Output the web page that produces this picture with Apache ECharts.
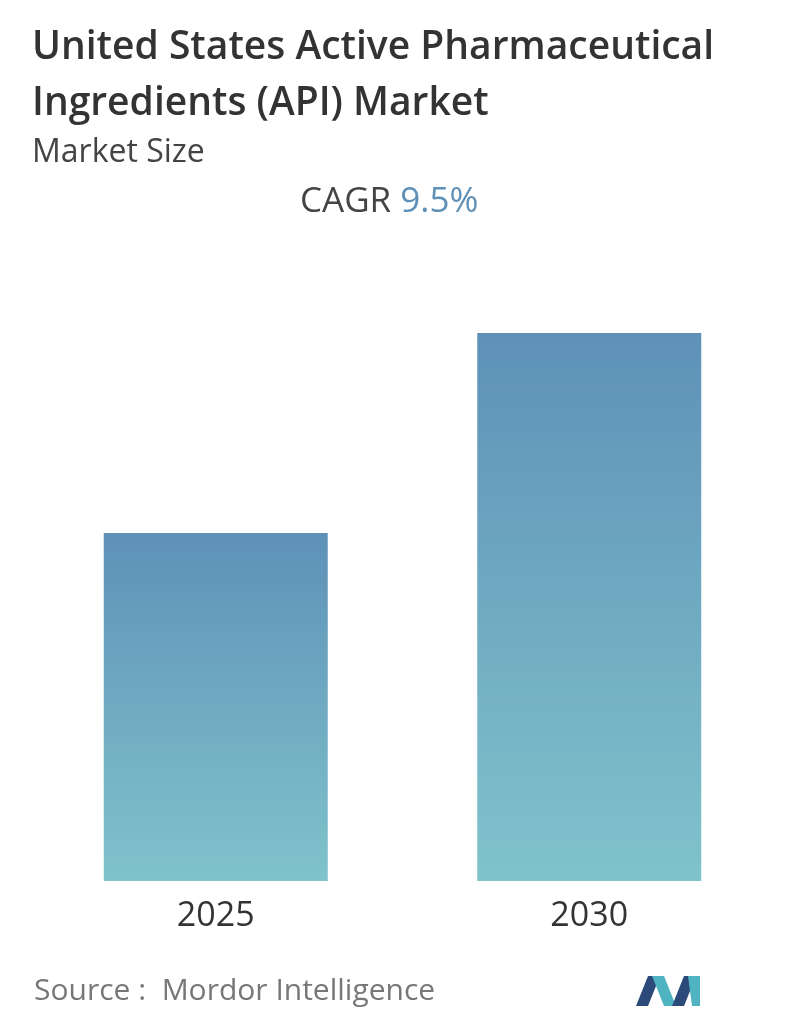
<!DOCTYPE html>
<html><head><meta charset="utf-8">
<script src="https://cdn.jsdelivr.net/npm/echarts@6/dist/echarts.min.js"></script>
<style>html,body{margin:0;padding:0;background:#fff}#c{width:796px;height:1034px}</style>
</head><body><div id="c"></div>
<script>
const categories = ['2025', '2030'];
const values = [348, 548];
const chart = echarts.init(document.getElementById('c'));
chart.setOption({
  animation: false,
  grid: { left: 29, right: 20, top: 333, bottom: 153 },
  xAxis: { type: 'category', data: categories, axisLine: { show: false }, axisTick: { show: false },
    axisLabel: { fontSize: 34, color: '#333', margin: 18, fontFamily: 'Open Sans' } },
  yAxis: { type: 'value', min: 0, max: 548, show: false, splitLine: { show: false } },
  series: [{ type: 'bar', data: values, barWidth: 224,
    itemStyle: { color: new echarts.graphic.LinearGradient(0, 0, 0, 1, [
      { offset: 0, color: '#5f91b8' }, { offset: 1, color: '#7fc3cb' }]) } }],
  graphic: [
    { type: 'text', left: 32, top: 20, style: { text: 'United States Active Pharmaceutical\nIngredients (API) Market', font: '600 39px "Open Sans"', fill: '#333', lineHeight: 56 } },
    { type: 'text', left: 32, top: 137, style: { text: 'Market Size', font: '32px "Open Sans"', fill: '#444' } },
    { type: 'text', left: 300, top: 185, style: { rich: { a: { font: '35px "Open Sans"', fill: '#444' }, b: { font: '35px "Open Sans"', fill: '#5f91b8' } }, text: '{a|CAGR }{b|9.5%}' } },
    { type: 'text', left: 34, top: 976, style: { text: 'Source :  Mordor Intelligence', font: '30px "Open Sans"', fill: '#777' } },
    { type: 'polygon', shape: { points: [[636, 1006], [648, 976], [660, 976], [648, 1006]] }, style: { fill: '#2b4a7a' } },
    { type: 'polygon', shape: { points: [[652, 976], [664, 976], [676, 1006], [664, 1006]] }, style: { fill: '#4fb3c1' } },
    { type: 'polygon', shape: { points: [[672, 1006], [684, 976], [696, 976], [684, 1006]] }, style: { fill: '#2b4a7a' } },
    { type: 'polygon', shape: { points: [[688, 976], [700, 976], [700, 1006], [692, 1006]] }, style: { fill: '#4fb3c1' } }
  ]
});
</script></body></html>
